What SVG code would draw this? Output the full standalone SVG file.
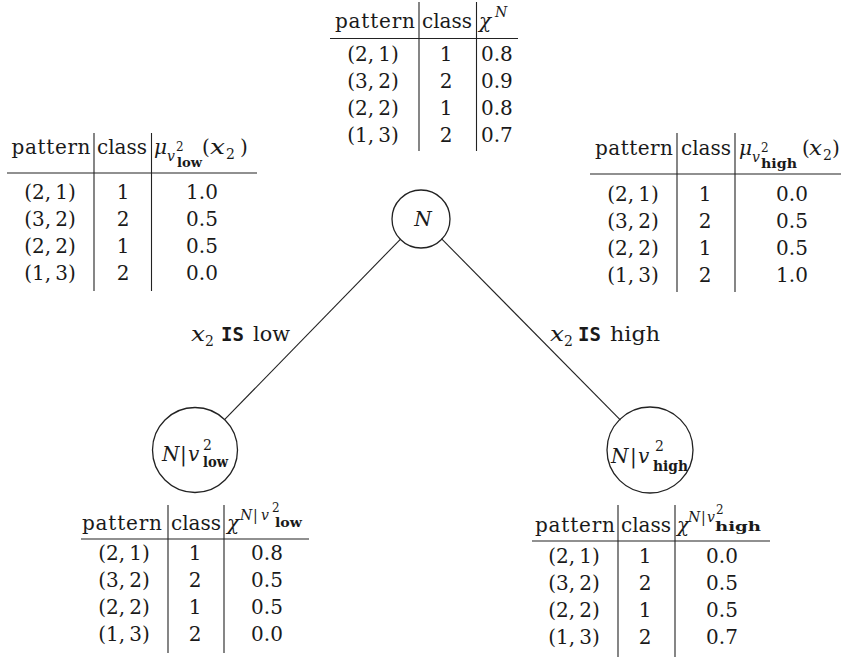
<svg xmlns="http://www.w3.org/2000/svg" width="841" height="657" viewBox="0 0 841 657">
<style>
text { font-family: "DejaVu Serif", "Liberation Serif", serif; font-size: 20px; fill: #1a1a1a; }
.m { text-anchor: middle; }
.i { font-style: italic; }
.s { font-size: 14px; }
.ss { font-size: 12px; }
.b { font-weight: bold; }
.tt { font-family: "DejaVu Sans Mono", "Liberation Mono", monospace; font-weight: bold; font-size: 19px; }
line { stroke: #222; stroke-width: 1.1; }
circle { fill: none; stroke: #222; stroke-width: 1.3; }
</style>
<rect width="841" height="657" fill="#ffffff"/>

<g id="connectors">
  <line x1="400.8" y1="238.8" x2="224.3" y2="419.9"/>
  <line x1="441.4" y1="238.6" x2="620.5" y2="420.1"/>
  <g id="label-low">
    <text x="191" y="341" class="i" textLength="14" lengthAdjust="spacingAndGlyphs">x</text><text x="205" y="346" class="s">2</text>
    <text x="221" y="341" class="tt">IS</text>
    <text x="253" y="341" textLength="37" lengthAdjust="spacingAndGlyphs">low</text>
  </g>
  <g id="label-high">
    <text x="550" y="341" class="i" textLength="14" lengthAdjust="spacingAndGlyphs">x</text><text x="564" y="346" class="s">2</text>
    <text x="578" y="341" class="tt">IS</text>
    <text x="610" y="341" textLength="50" lengthAdjust="spacingAndGlyphs">high</text>
  </g>
</g>

<g id="node-N">
  <circle cx="421" cy="219" r="29"/>
  <text x="423" y="226" class="m i">N</text>
</g>

<g id="node-low">
  <circle cx="195" cy="450" r="42.5"/>
  <text x="162" y="461" class="i">N</text>
  <text x="180" y="461">|</text>
  <text x="188" y="461" class="i">v</text>
  <text x="203" y="450" class="s">2</text>
  <text x="203" y="467" class="s b" textLength="25" lengthAdjust="spacingAndGlyphs">low</text>
</g>

<g id="node-high">
  <circle cx="650" cy="450" r="43"/>
  <text x="611" y="463" class="i">N</text>
  <text x="630" y="463">|</text>
  <text x="638" y="463" class="i">v</text>
  <text x="655" y="451" class="s">2</text>
  <text x="653" y="471" class="s b" textLength="35" lengthAdjust="spacingAndGlyphs">high</text>
</g>

<g id="table-top">
  <line x1="419" y1="2" x2="419" y2="151"/>
  <line x1="476.5" y1="2" x2="476.5" y2="151"/>
  <line x1="330" y1="38.5" x2="518" y2="38.5"/>
  <text x="375" y="28" class="m" textLength="80">pattern</text>
  <text x="447" y="28" class="m">class</text>
  <text x="479" y="28" class="i">χ</text>
  <text x="495" y="17" class="s i">N</text>
  <text x="373" y="61" class="m">(2,&#8201;1)</text><text x="446" y="61" class="m">1</text><text x="481" y="61">0.8</text>
  <text x="373" y="88" class="m">(3,&#8201;2)</text><text x="446" y="88" class="m">2</text><text x="481" y="88">0.9</text>
  <text x="373" y="115" class="m">(2,&#8201;2)</text><text x="446" y="115" class="m">1</text><text x="481" y="115">0.8</text>
  <text x="373" y="142" class="m">(1,&#8201;3)</text><text x="446" y="142" class="m">2</text><text x="481" y="142">0.7</text>
</g>

<g id="table-low">
  <line x1="94" y1="133" x2="94" y2="291"/>
  <line x1="151.5" y1="133" x2="151.5" y2="291"/>
  <line x1="7" y1="173" x2="257" y2="173"/>
  <text x="51" y="154" class="m" textLength="79">pattern</text>
  <text x="122" y="154" class="m">class</text>
  <text x="154" y="154" class="i">μ</text>
  <text x="167" y="161" class="s i">v</text>
  <text x="176" y="151" class="ss">2</text>
  <text x="177" y="167" class="ss b" textLength="25" lengthAdjust="spacingAndGlyphs">low</text>
  <text x="202" y="154">(</text>
  <text x="210" y="154" class="i" textLength="15" lengthAdjust="spacingAndGlyphs">x</text>
  <text x="226" y="159" class="s">2</text>
  <text x="240" y="154">)</text>
  <text x="50" y="199" class="m">(2,&#8201;1)</text><text x="123" y="199" class="m">1</text><text x="202" y="199" class="m">1.0</text>
  <text x="50" y="226" class="m">(3,&#8201;2)</text><text x="123" y="226" class="m">2</text><text x="202" y="226" class="m">0.5</text>
  <text x="50" y="253" class="m">(2,&#8201;2)</text><text x="123" y="253" class="m">1</text><text x="202" y="253" class="m">0.5</text>
  <text x="50" y="280" class="m">(1,&#8201;3)</text><text x="123" y="280" class="m">2</text><text x="202" y="280" class="m">0.0</text>
</g>

<g id="table-high">
  <line x1="677" y1="133" x2="677" y2="292"/>
  <line x1="735" y1="133" x2="735" y2="292"/>
  <line x1="590" y1="174" x2="841" y2="174"/>
  <text x="634" y="155" class="m" textLength="78">pattern</text>
  <text x="706" y="155" class="m">class</text>
  <text x="739" y="155" class="i">μ</text>
  <text x="752" y="162" class="s i">v</text>
  <text x="761" y="152" class="ss">2</text>
  <text x="761" y="168" class="ss b" textLength="36" lengthAdjust="spacingAndGlyphs">high</text>
  <text x="802" y="155">(</text>
  <text x="809" y="155" class="i" textLength="13" lengthAdjust="spacingAndGlyphs">x</text>
  <text x="823" y="160" class="s">2</text>
  <text x="832" y="155">)</text>
  <text x="633" y="201" class="m">(2,&#8201;1)</text><text x="705" y="201" class="m">1</text><text x="792" y="201" class="m">0.0</text>
  <text x="633" y="228" class="m">(3,&#8201;2)</text><text x="705" y="228" class="m">2</text><text x="792" y="228" class="m">0.5</text>
  <text x="633" y="255" class="m">(2,&#8201;2)</text><text x="705" y="255" class="m">1</text><text x="792" y="255" class="m">0.5</text>
  <text x="633" y="282" class="m">(1,&#8201;3)</text><text x="705" y="282" class="m">2</text><text x="792" y="282" class="m">1.0</text>
</g>

<g id="table-low-child">
  <line x1="168" y1="505" x2="168" y2="653"/>
  <line x1="224" y1="505" x2="224" y2="653"/>
  <line x1="81" y1="539" x2="309" y2="539"/>
  <text x="122" y="530" class="m" textLength="80">pattern</text>
  <text x="196" y="530" class="m">class</text>
  <text x="227" y="530" class="i">χ</text>
  <text x="240" y="520" class="s i">N</text>
  <text x="253" y="520" class="s">|</text>
  <text x="261" y="520" class="s i">v</text>
  <text x="272" y="512" class="ss">2</text>
  <text x="275" y="527" class="ss b" textLength="27" lengthAdjust="spacingAndGlyphs">low</text>
  <text x="124" y="560" class="m">(2,&#8201;1)</text><text x="195" y="560" class="m">1</text><text x="267" y="560" class="m">0.8</text>
  <text x="124" y="587" class="m">(3,&#8201;2)</text><text x="195" y="587" class="m">2</text><text x="267" y="587" class="m">0.5</text>
  <text x="124" y="614" class="m">(2,&#8201;2)</text><text x="195" y="614" class="m">1</text><text x="267" y="614" class="m">0.5</text>
  <text x="124" y="641" class="m">(1,&#8201;3)</text><text x="195" y="641" class="m">2</text><text x="267" y="641" class="m">0.0</text>
</g>

<g id="table-high-child">
  <line x1="618" y1="505" x2="618" y2="657"/>
  <line x1="675" y1="505" x2="675" y2="657"/>
  <line x1="532" y1="541" x2="770" y2="541"/>
  <text x="575" y="532" class="m" textLength="80">pattern</text>
  <text x="646" y="532" class="m">class</text>
  <text x="677" y="532" class="i">χ</text>
  <text x="688" y="522" class="s i">N</text>
  <text x="701" y="522" class="s">|</text>
  <text x="707" y="522" class="s i">v</text>
  <text x="716" y="514" class="ss">2</text>
  <text x="715" y="531" class="ss b" textLength="46" lengthAdjust="spacingAndGlyphs">high</text>
  <text x="574" y="563" class="m">(2,&#8201;1)</text><text x="645" y="563" class="m">1</text><text x="722" y="563" class="m">0.0</text>
  <text x="574" y="590" class="m">(3,&#8201;2)</text><text x="645" y="590" class="m">2</text><text x="722" y="590" class="m">0.5</text>
  <text x="574" y="617" class="m">(2,&#8201;2)</text><text x="645" y="617" class="m">1</text><text x="722" y="617" class="m">0.5</text>
  <text x="574" y="644" class="m">(1,&#8201;3)</text><text x="645" y="644" class="m">2</text><text x="722" y="644" class="m">0.7</text>
</g>
</svg>
